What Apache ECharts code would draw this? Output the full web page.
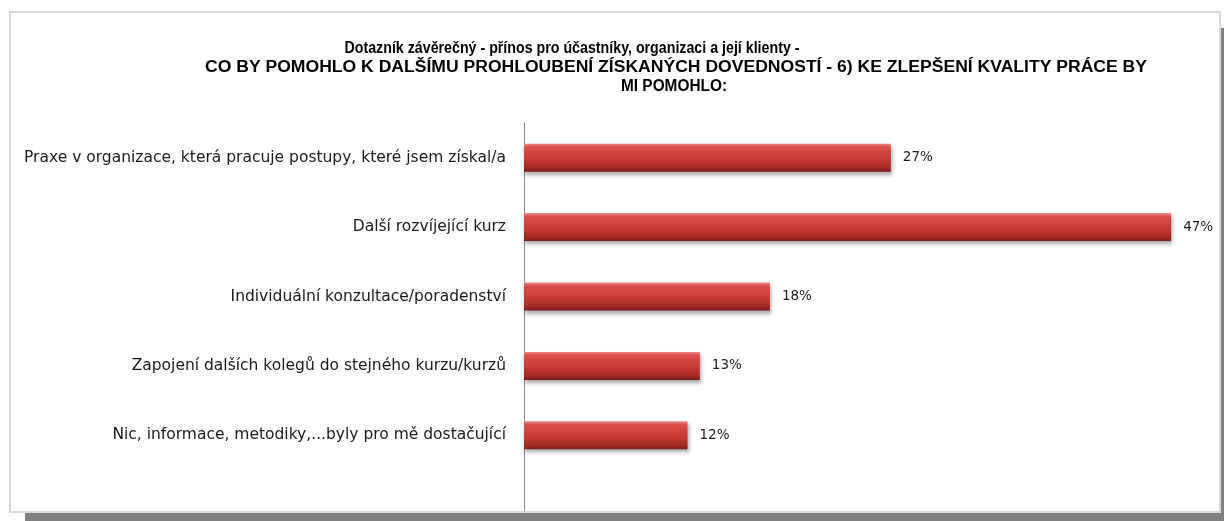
<!DOCTYPE html>
<html>
<head>
<meta charset="utf-8">
<script src="https://cdn.jsdelivr.net/npm/echarts@6/dist/echarts.min.js"></script>
<style>
html,body{margin:0;padding:0;background:#fff;width:1224px;height:521px;overflow:hidden;position:relative;}
#shadowR{position:absolute;left:1221px;top:28px;width:3px;height:493px;background:#7f7f7f;}
#shadowB{position:absolute;left:25px;top:513px;width:1199px;height:8px;background:#7f7f7f;}
#frame{position:absolute;left:9px;top:11px;width:1208px;height:498px;border:2px solid #d9d9d9;background:#fff;}
#chart{position:absolute;left:0;top:0;width:1224px;height:521px;}
</style>
</head>
<body>
<div id="shadowR"></div>
<div id="shadowB"></div>
<div id="frame"></div>
<div id="chart"></div>
<script>
const titleLines = [
  "Dotazník závěrečný - přínos pro účastníky, organizaci a její klienty -",
  "CO BY POMOHLO K DALŠÍMU PROHLOUBENÍ ZÍSKANÝCH DOVEDNOSTÍ - 6) KE ZLEPŠENÍ KVALITY PRÁCE BY",
  "MI POMOHLO:"
];
const categories = [
  "Praxe v organizace, která pracuje postupy, které jsem získal/a",
  "Další rozvíjející kurz",
  "Individuální konzultace/poradenství",
  "Zapojení dalších kolegů do stejného kurzu/kurzů",
  "Nic, informace, metodiky,...byly pro mě dostačující"
];
// values (labels show rounded percentages)
const values = [0.267, 0.471, 0.179, 0.128, 0.119];

const TITLE_FONT = 'bold 16px "Liberation Sans"';
const cvs = document.createElement('canvas').getContext('2d');
function scaleFor(text, target) {
  cvs.font = TITLE_FONT;
  return target / cvs.measureText(text).width;
}
// title line layout: [centerX, centerY, width] as seen in the reference
const titleLayout = [[572, 49, 455], [676, 68, 942], [674, 87, 106]];

const chart = echarts.init(document.getElementById('chart'), null, {renderer:'canvas'});
const option = {
  backgroundColor: 'transparent',
  animation: false,
  grid: {left: 524, right: 13, top: 123, bottom: 51, containLabel: false},
  xAxis: {
    type: 'value', min: 0, max: 0.5, interval: 0.1,
    show: false
  },
  yAxis: {
    type: 'category', inverse: true, data: categories,
    axisLine: {show: true, lineStyle: {color: '#868686', width: 1}},
    axisTick: {show: false},
    axisLabel: {fontFamily: 'DejaVu Sans', fontSize: 15.5, color: '#1a1a1a', margin: 18}
  },
  series: [{
    type: 'bar',
    data: values,
    barWidth: 28,
    itemStyle: {
      color: new echarts.graphic.LinearGradient(0,0,0,1,[
        {offset:0, color:'#ee8a86'},
        {offset:0.12, color:'#d9504b'},
        {offset:0.55, color:'#c63b36'},
        {offset:0.85, color:'#a52a26'},
        {offset:1, color:'#7a1a18'}
      ]),
      shadowColor: 'rgba(0,0,0,0.35)',
      shadowBlur: 4,
      shadowOffsetX: 1,
      shadowOffsetY: 3
    },
    label: {
      show: true, position: 'right', distance: 12,
      fontFamily: 'DejaVu Sans', fontSize: 13.5, color: '#1a1a1a',
      formatter: p => Math.round(p.value*100) + '%'
    }
  }]
};
chart.setOption(option);
const ax = chart.convertToPixel({xAxisIndex:0}, 0);
const gridBottom = 521 - 51;
const graphics = titleLines.map((t, i) => ({
  type: 'text', silent: true,
  x: titleLayout[i][0], y: titleLayout[i][1],
  scaleX: scaleFor(t, titleLayout[i][2]), scaleY: 1.0,
  style: {text: t, fill: '#000', align: 'center', verticalAlign: 'middle', font: TITLE_FONT}
}));
graphics.push({type: 'line', silent: true,
  shape: {x1: Math.round(ax)+0.5, y1: gridBottom, x2: Math.round(ax)+0.5, y2: 511},
  style: {stroke: '#868686', lineWidth: 1}});
chart.setOption({graphic: graphics});
</script>
</body>
</html>
